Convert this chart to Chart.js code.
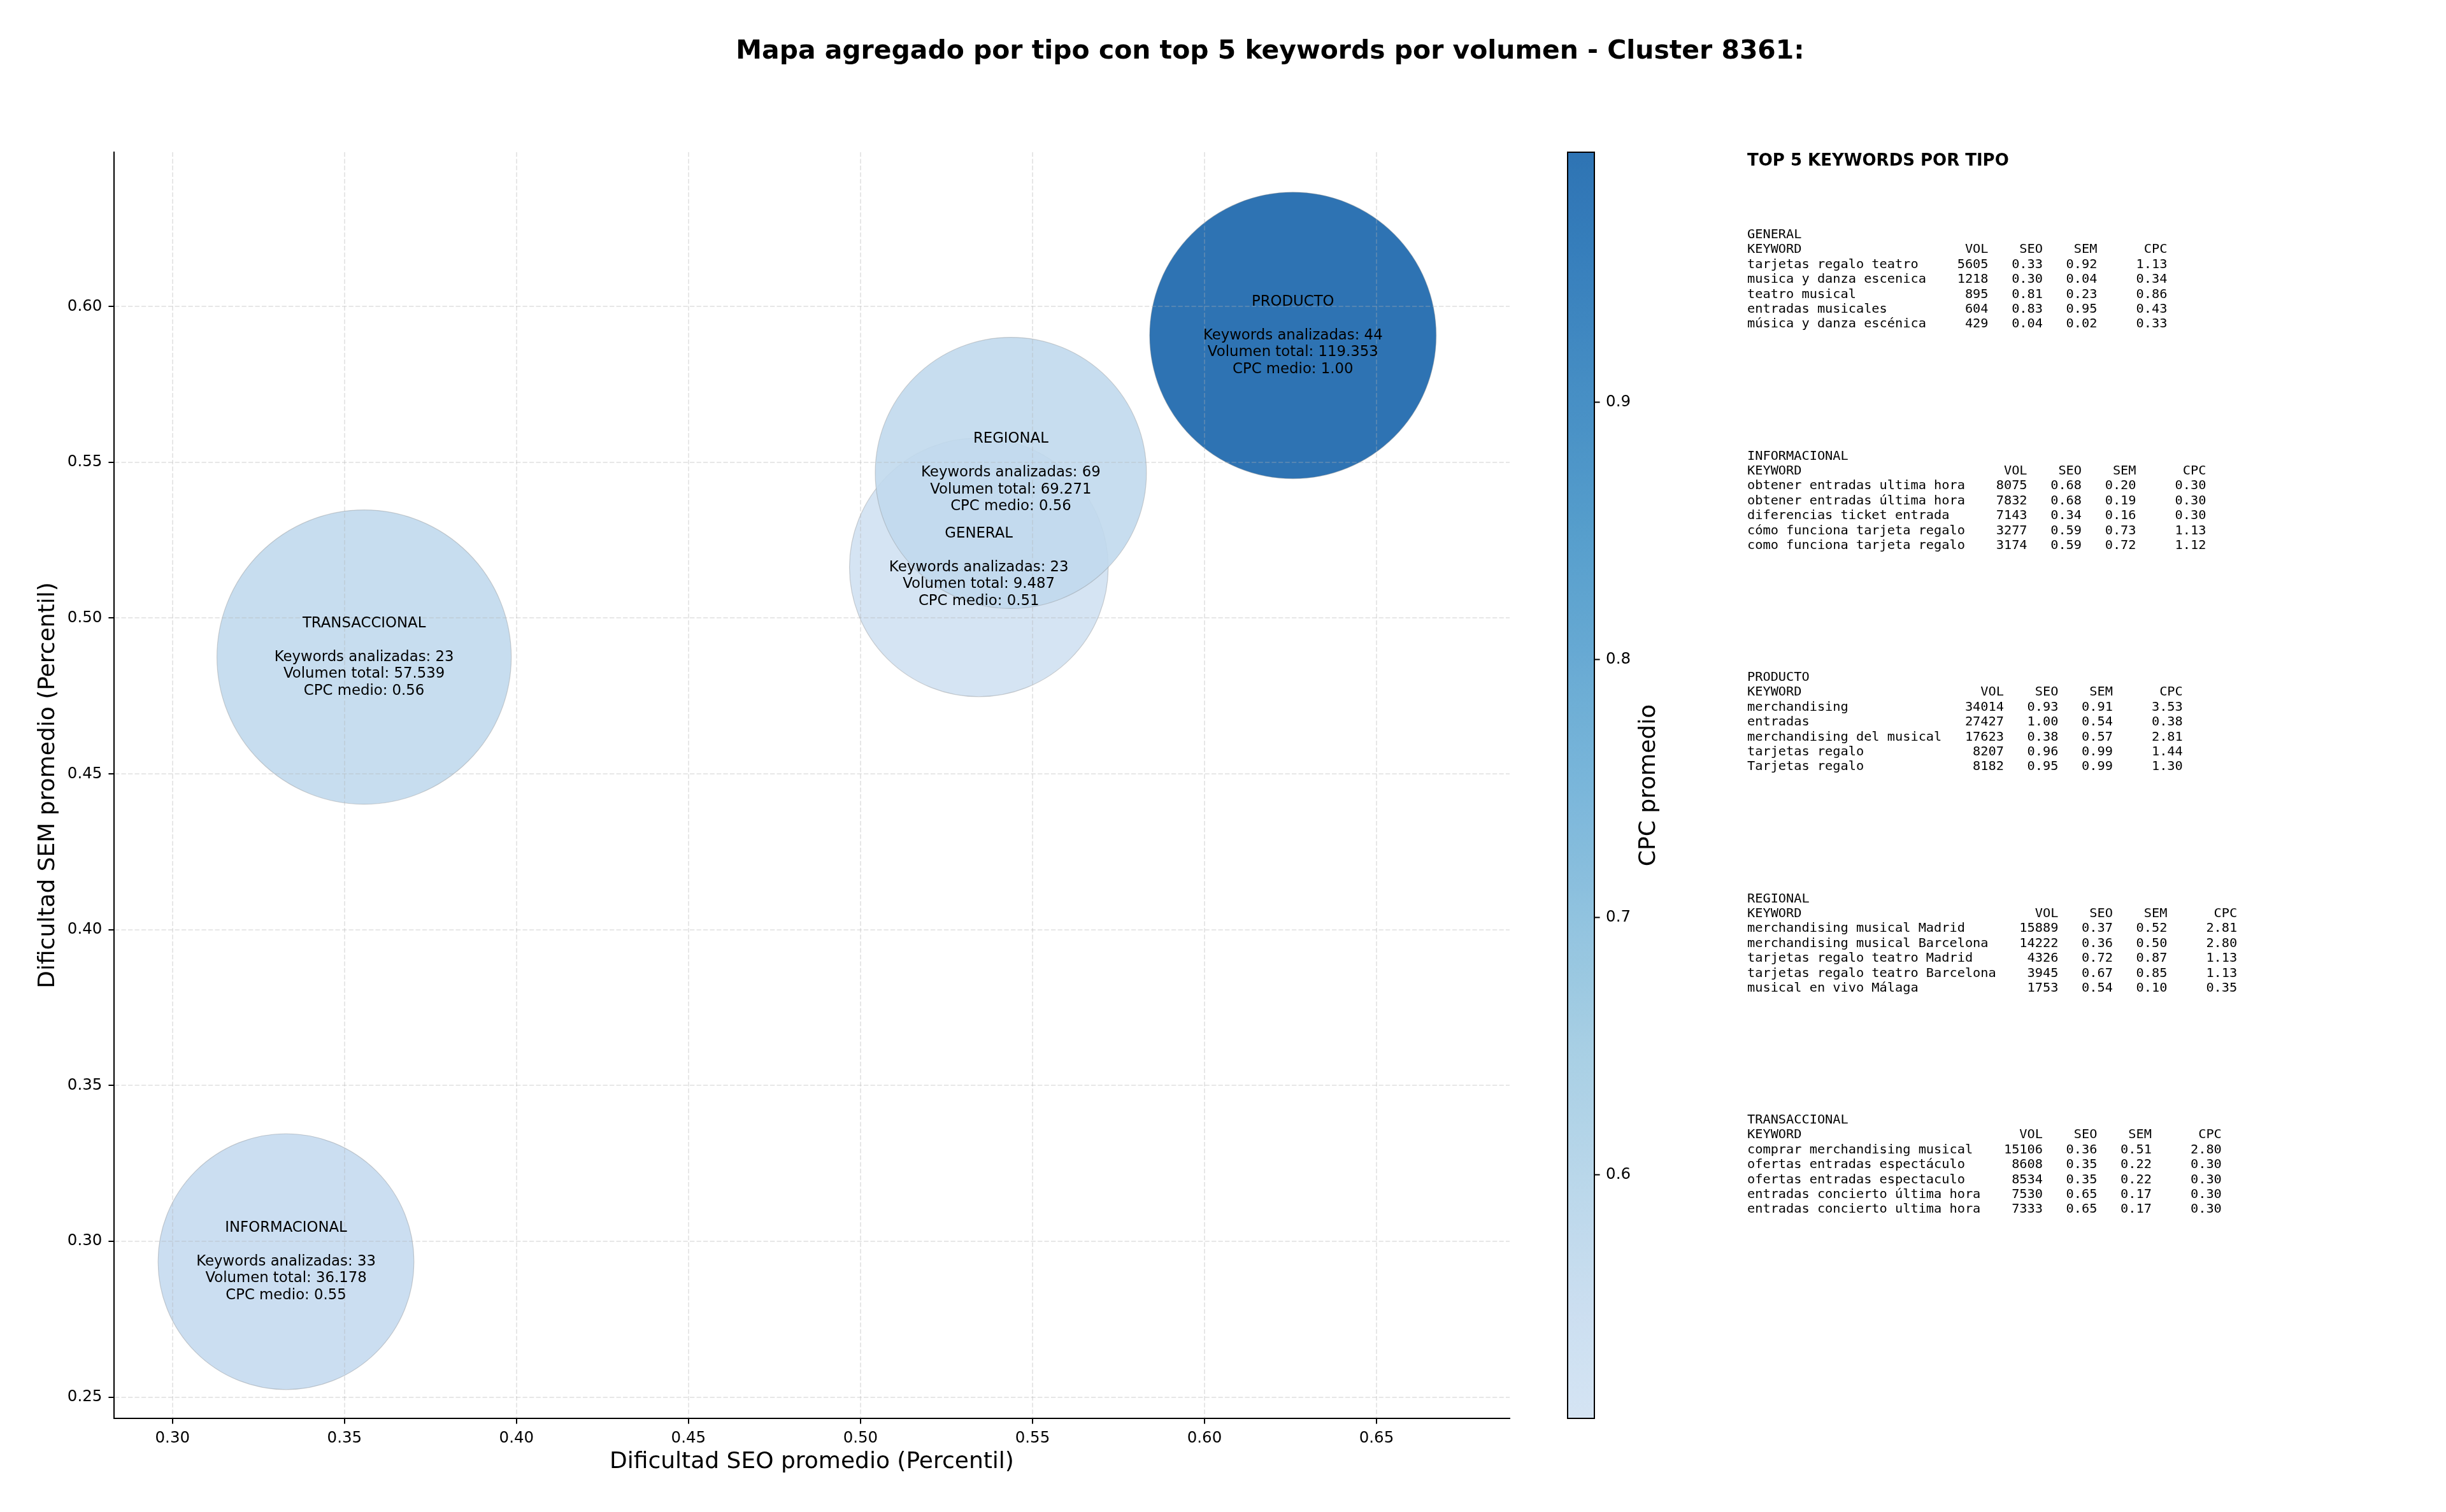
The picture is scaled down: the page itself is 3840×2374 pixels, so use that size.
<!DOCTYPE html>
<html><head><meta charset="utf-8">
<script src="https://cdn.jsdelivr.net/npm/chart.js@4.4.1/dist/chart.umd.min.js"></script>
<style>
html,body{margin:0;padding:0;background:#fff;}
#wrap{position:relative;width:3840px;height:2374px;background:#fff;}
#wrap canvas{position:absolute;left:0;top:0;}
</style></head><body>
<div id="wrap"><canvas id="main" width="3840" height="2374"></canvas><canvas id="cbar" width="3840" height="2374"></canvas></div>
<script>
// ---------------- DATA ----------------
const tipos = ['GENERAL', 'INFORMACIONAL', 'PRODUCTO', 'REGIONAL', 'TRANSACCIONAL'];
const seoPromedio = [0.5344, 0.3330, 0.6257, 0.5437, 0.3557];
const semPromedio = [0.5163, 0.2935, 0.5907, 0.5466, 0.4875];
const cpcMedio = [0.5055, 0.55, 0.997, 0.56, 0.56];
const keywordsAnalizadas = [23, 33, 44, 69, 23];
const volumenTotal = [9487, 36178, 119353, 69271, 57539];
const bubbleRadiusPt = [82.9, 82.0, 91.8, 86.9, 94.3];

const xTicks = [0.30, 0.35, 0.40, 0.45, 0.50, 0.55, 0.60, 0.65];
const yTicks = [0.25, 0.30, 0.35, 0.40, 0.45, 0.50, 0.55, 0.60];
const cbarTicks = [0.6, 0.7, 0.8, 0.9];

const kwGeneral = [
  ['tarjetas regalo teatro', 5605, 0.33, 0.92, 1.13],
  ['musica y danza escenica', 1218, 0.30, 0.04, 0.34],
  ['teatro musical', 895, 0.81, 0.23, 0.86],
  ['entradas musicales', 604, 0.83, 0.95, 0.43],
  ['música y danza escénica', 429, 0.04, 0.02, 0.33]
];
const kwInformacional = [
  ['obtener entradas ultima hora', 8075, 0.68, 0.20, 0.30],
  ['obtener entradas última hora', 7832, 0.68, 0.19, 0.30],
  ['diferencias ticket entrada', 7143, 0.34, 0.16, 0.30],
  ['cómo funciona tarjeta regalo', 3277, 0.59, 0.73, 1.13],
  ['como funciona tarjeta regalo', 3174, 0.59, 0.72, 1.12]
];
const kwProducto = [
  ['merchandising', 34014, 0.93, 0.91, 3.53],
  ['entradas', 27427, 1.00, 0.54, 0.38],
  ['merchandising del musical', 17623, 0.38, 0.57, 2.81],
  ['tarjetas regalo', 8207, 0.96, 0.99, 1.44],
  ['Tarjetas regalo', 8182, 0.95, 0.99, 1.30]
];
const kwRegional = [
  ['merchandising musical Madrid', 15889, 0.37, 0.52, 2.81],
  ['merchandising musical Barcelona', 14222, 0.36, 0.50, 2.80],
  ['tarjetas regalo teatro Madrid', 4326, 0.72, 0.87, 1.13],
  ['tarjetas regalo teatro Barcelona', 3945, 0.67, 0.85, 1.13],
  ['musical en vivo Málaga', 1753, 0.54, 0.10, 0.35]
];
const kwTransaccional = [
  ['comprar merchandising musical', 15106, 0.36, 0.51, 2.80],
  ['ofertas entradas espectáculo', 8608, 0.35, 0.22, 0.30],
  ['ofertas entradas espectaculo', 8534, 0.35, 0.22, 0.30],
  ['entradas concierto última hora', 7530, 0.65, 0.17, 0.30],
  ['entradas concierto ultima hora', 7333, 0.65, 0.17, 0.30]
];
const kwTables = [kwGeneral, kwInformacional, kwProducto, kwRegional, kwTransaccional];

// ---------------- STYLE ----------------
const PX_PER_PT = 2.45;
const SANS = '"DejaVu Sans", "Liberation Sans", sans-serif';
const MONO = '"DejaVu Sans Mono", "Liberation Mono", monospace';
const BLUES = [[247,251,255],[222,235,247],[198,219,239],[158,202,225],[107,174,214],[66,146,198],[33,113,181],[8,81,156],[8,48,107]];
const CMAP_LO = 0.2, CMAP_HI = 0.8, ALPHA = 0.9;
const vmin = Math.min(...cpcMedio), vmax = Math.max(...cpcMedio);
function blues(t) {
  t = Math.min(1, Math.max(0, t));
  const p = t * 8, i = Math.min(7, Math.floor(p)), f = p - i;
  return BLUES[i].map((c, k) => c + (BLUES[i + 1][k] - c) * f);
}
function cpcColor(v) {
  const n = (v - vmin) / (vmax - vmin);
  const c = blues(CMAP_LO + (CMAP_HI - CMAP_LO) * n);
  return 'rgba(' + c.map(Math.round).join(',') + ',' + ALPHA + ')';
}
function fmtMiles(n) { return String(n).replace(/\B(?=(\d{3})+(?!\d))/g, '.'); }

const gridOpts = {z: 1, color: 'rgba(176,176,176,0.3)', lineWidth: 2, tickLength: 8.6, tickWidth: 2, tickColor: '#000', tickBorderDash: []};
const borderOpts = {display: true, z: 1, color: '#000', width: 2, dash: [7.3, 3.2]};
const tickFont = {family: SANS, size: 24.5};

const textPlugin = {
  id: 'texts',
  afterDraw(chart) {
    const ctx = chart.ctx, xs = chart.scales.x, ys = chart.scales.y, ca = chart.chartArea;
    ctx.save();
    ctx.fillStyle = '#000';
    // title
    ctx.font = 'bold 40.9px ' + SANS;
    ctx.textAlign = 'center'; ctx.textBaseline = 'middle';
    ctx.fillText('Mapa agregado por tipo con top 5 keywords por volumen - Cluster 8361:', 1994, 81);
    // axis labels
    ctx.font = '36px ' + SANS;
    ctx.fillText('Dificultad SEO promedio (Percentil)', (ca.left + ca.right) / 2, 2296);
    ctx.save();
    ctx.translate(76, (ca.top + ca.bottom) / 2);
    ctx.rotate(-Math.PI / 2);
    ctx.fillText('Dificultad SEM promedio (Percentil)', 0, 0);
    ctx.restore();
    // bubble annotations
    ctx.font = '22.8px ' + SANS;
    tipos.forEach((t, i) => {
      const cx = xs.getPixelForValue(seoPromedio[i]);
      const cy = ys.getPixelForValue(semPromedio[i]);
      const lines = [t, '', 'Keywords analizadas: ' + keywordsAnalizadas[i],
        'Volumen total: ' + fmtMiles(volumenTotal[i]), 'CPC medio: ' + cpcMedio[i].toFixed(2)];
      lines.forEach((l, j) => ctx.fillText(l, cx, cy + (j - 2) * 26.5));
    });
    // right-hand table
    ctx.textAlign = 'left'; ctx.textBaseline = 'alphabetic';
    ctx.font = 'bold 26px ' + SANS;
    ctx.fillText('TOP 5 KEYWORDS POR TIPO', 2743, 260);
    ctx.font = '20.3px ' + MONO;
    kwTables.forEach((rows, b) => {
      const L = Math.max(...rows.map(r => r[0].length));
      const lines = [tipos[b],
        'KEYWORD'.padEnd(L) + ' ' + 'VOL'.padStart(7) + ' ' + 'SEO'.padStart(6) + ' ' + 'SEM'.padStart(6) + ' ' + 'CPC'.padStart(8)];
      rows.forEach(r => lines.push(r[0].padEnd(L) + ' ' + String(r[1]).padStart(7) + ' ' +
        r[2].toFixed(2).padStart(6) + ' ' + r[3].toFixed(2).padStart(6) + ' ' + r[4].toFixed(2).padStart(8)));
      const base = 374 + b * 347.5;
      lines.forEach((l, j) => ctx.fillText(l, 2743, base + j * 23.4));
    });
    ctx.restore();
  }
};

new Chart(document.getElementById('main'), {
  type: 'bubble',
  data: {datasets: [{
    data: tipos.map((t, i) => ({x: seoPromedio[i], y: semPromedio[i], r: bubbleRadiusPt[i] * PX_PER_PT})),
    backgroundColor: cpcMedio.map(cpcColor),
    borderColor: 'rgba(128,128,128,0.35)', borderWidth: 1.2
  }]},
  options: {
    responsive: false, devicePixelRatio: 1, animation: false, events: [],
    layout: {autoPadding: false, padding: {left: 0, top: 239, right: 1470, bottom: 0}},
    plugins: {legend: {display: false}, tooltip: {enabled: false}, title: {display: false}},
    scales: {
      x: {type: 'linear', min: 0.283, max: 0.6887,
        afterBuildTicks: s => { s.ticks = xTicks.map(v => ({value: v})); },
        afterFit: s => { s.height = 147; },
        ticks: {callback: v => v.toFixed(2), font: tickFont, color: '#000', padding: 8.5, maxRotation: 0, autoSkip: false},
        grid: gridOpts, border: borderOpts},
      y: {type: 'linear', min: 0.2432, max: 0.6495,
        afterBuildTicks: s => { s.ticks = yTicks.map(v => ({value: v})); },
        afterFit: s => { s.width = 179; },
        ticks: {callback: v => v.toFixed(2), font: tickFont, color: '#000', padding: 10, autoSkip: false},
        grid: gridOpts, border: borderOpts}
    }
  },
  plugins: [textPlugin]
});

// ---------------- COLORBAR ----------------
function cbarGradient(chart) {
  const ca = chart.chartArea;
  if (!ca) return cpcColor(vmin);
  const g = chart.ctx.createLinearGradient(0, ca.bottom, 0, ca.top);
  for (let k = 0; k <= 64; k++) {
    const v = vmin + (vmax - vmin) * k / 64;
    g.addColorStop(k / 64, cpcColor(v));
  }
  return g;
}
const cbarPlugin = {
  id: 'cbarOutline',
  afterDraw(chart) {
    const ctx = chart.ctx, ca = chart.chartArea;
    ctx.save();
    ctx.strokeStyle = '#000'; ctx.lineWidth = 2;
    ctx.strokeRect(ca.left, ca.top, ca.right - ca.left, ca.bottom - ca.top);
    ctx.fillStyle = '#000';
    ctx.font = '36px ' + SANS;
    ctx.textAlign = 'center'; ctx.textBaseline = 'middle';
    ctx.translate(2589, (ca.top + ca.bottom) / 2);
    ctx.rotate(-Math.PI / 2);
    ctx.fillText('CPC promedio', 0, 0);
    ctx.restore();
  }
};
new Chart(document.getElementById('cbar'), {
  type: 'bar',
  data: {labels: ['CPC'], datasets: [{
    data: [[vmin, vmax]],
    backgroundColor: ctx => cbarGradient(ctx.chart),
    borderWidth: 0, barPercentage: 1, categoryPercentage: 1, borderSkipped: false
  }]},
  options: {
    responsive: false, devicePixelRatio: 1, animation: false, events: [],
    layout: {autoPadding: false, padding: {left: 2461, top: 239, right: 3840 - 2503 - 120, bottom: 147}},
    plugins: {legend: {display: false}, tooltip: {enabled: false}},
    scales: {
      x: {display: false},
      y: {position: 'right', min: vmin, max: vmax,
        afterBuildTicks: s => { s.ticks = cbarTicks.map(v => ({value: v})); },
        afterFit: s => { s.width = 120; },
        ticks: {callback: v => v.toFixed(1), font: tickFont, color: '#000', padding: 9.5, autoSkip: false},
        grid: {drawOnChartArea: false, tickLength: 8.6, tickWidth: 2, tickColor: '#000'},
        border: {display: false}}
    }
  },
  plugins: [cbarPlugin]
});
</script>
</body></html>
